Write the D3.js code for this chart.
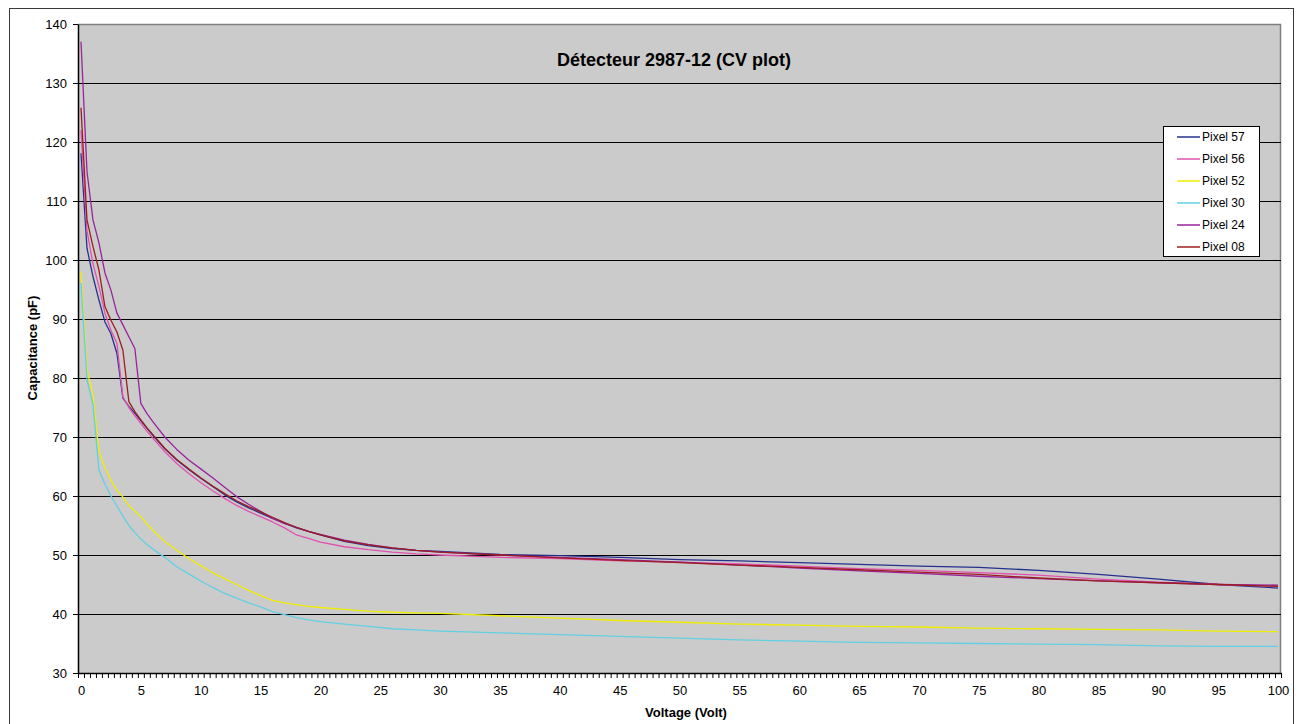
<!DOCTYPE html>
<html>
<head>
<meta charset="utf-8">
<script src="https://cdn.jsdelivr.net/npm/d3@7/dist/d3.min.js"></script>
<style>
  html, body { margin: 0; padding: 0; background: #ffffff; }
  svg { display: block; font-family: Arial, "Liberation Sans", sans-serif; }
</style>
</head>
<body>
<svg id="chart" width="1300" height="724"></svg>
<script>
// ---------- data ----------
const chartTitle = "Détecteur 2987-12 (CV plot)";
const xTitle = "Voltage (Volt)";
const yTitle = "Capacitance (pF)";

const volts = [0,0.5,1,1.5,2,2.5,3,3.5,4,4.5,5,5.5,6,7,8,9,10,11,12,13,14,15,16,17,18,19,20,22,24,26,28,30,35,40,45,50,55,60,65,70,75,80,85,90,95,100];

const pixel57 = [118.1,102.0,97.2,93.2,89.5,87.5,84.2,76.6,75.2,74.0,72.8,71.5,
  70.3,68.0,66.1,64.5,63.0,61.6,60.2,59.0,58.0,57.1,56.2,55.4,54.6,54.0,53.4,
  52.3,51.6,51.1,50.8,50.6,
  50.1,49.9,49.6,49.2,49.0,48.7,48.4,48.1,47.9,47.4,46.7,45.9,45.0,44.4];
const pixel56 = [122.0,105.0,99.4,95.5,91.0,88.1,85.9,76.8,75.0,73.6,72.3,71.0,
  69.8,67.5,65.5,63.8,62.3,60.9,59.6,58.4,57.4,56.5,55.6,54.6,53.4,52.8,52.2,
  51.4,50.9,50.5,50.2,50.0,
  49.6,49.4,49.0,48.8,48.5,48.1,47.7,47.4,47.0,46.6,45.9,45.4,45.0,44.7];
const pixel52 = [98.0,81.4,77.1,67.5,64.8,62.7,61.0,59.8,58.4,57.4,56.5,55.3,
  54.2,52.3,50.8,49.4,48.2,47.0,46.0,45.0,44.0,43.1,42.3,41.9,41.6,41.3,41.1,
  40.8,40.5,40.3,40.2,40.1,
  39.7,39.3,38.9,38.6,38.3,38.1,37.9,37.8,37.6,37.5,37.4,37.3,37.1,37.0];
const pixel30 = [96.1,79.7,75.5,64.4,62.0,60.0,58.3,56.6,55.0,53.8,52.7,51.8,
  51.0,49.6,48.0,46.8,45.6,44.5,43.5,42.7,41.9,41.2,40.4,39.9,39.4,39.0,38.7,
  38.3,37.9,37.5,37.3,37.1,
  36.8,36.5,36.2,35.9,35.6,35.4,35.2,35.1,35.0,34.9,34.8,34.6,34.5,34.5];
const pixel24 = [137.0,115.0,106.8,102.9,97.8,94.9,91.0,89.0,87.0,85.0,75.7,74.0,
  72.6,70.0,67.9,66.1,64.6,63.1,61.5,59.9,58.6,57.4,56.2,55.3,54.7,54.0,53.5,
  52.5,51.8,51.2,50.8,50.5,
  50.0,49.6,49.2,48.8,48.3,47.8,47.3,46.9,46.4,46.0,45.6,45.3,45.0,44.9];
const pixel08 = [125.8,106.8,102.3,98.3,92.1,89.8,87.8,84.7,76.0,74.3,72.9,71.6,
  70.4,68.1,66.2,64.6,63.1,61.7,60.4,59.2,58.2,57.3,56.4,55.5,54.7,54.0,53.4,
  52.4,51.7,51.2,50.8,50.5,
  50.0,49.5,49.1,48.7,48.3,47.9,47.5,47.1,46.7,46.1,45.6,45.3,45.0,44.7];

const seriesNames = ["Pixel 57","Pixel 56","Pixel 52","Pixel 30","Pixel 24","Pixel 08"];
const seriesColors = ["#26308e","#e052b0","#f0ee00","#62d0e2","#9a239c","#9c1e22"];
const seriesValues = [pixel57, pixel56, pixel52, pixel30, pixel24, pixel08];

const xTickLabels = [0,5,10,15,20,25,30,35,40,45,50,55,60,65,70,75,80,85,90,95,100];
const yTickLabels = [30,40,50,60,70,80,90,100,110,120,130,140];

// ---------- layout ----------
const svg = d3.select("#chart");
const plot = {left: 78, right: 1281, top: 24, bottom: 673};

const x = d3.scaleLinear().domain([-0.25, 100.25]).range([plot.left, plot.right]);
const y = d3.scaleLinear().domain([30, 140]).range([plot.bottom, plot.top]);

// outer chart border
svg.append("rect")
  .attr("x", 9.5).attr("y", 8.5)
  .attr("width", 1284).attr("height", 730)
  .attr("fill", "#ffffff").attr("stroke", "#3a3a3a").attr("stroke-width", 1);

// plot area
svg.append("rect")
  .attr("x", plot.left).attr("y", plot.top)
  .attr("width", plot.right - plot.left).attr("height", plot.bottom - plot.top)
  .attr("fill", "#cbcbcb");

// grey border top & right
svg.append("path")
  .attr("d", `M${plot.left},${plot.top + 0.5}H${plot.right - 0.5}V${plot.bottom}`)
  .attr("fill", "none").attr("stroke", "#7f7f7f").attr("stroke-width", 1.5);

// gridlines
svg.append("g")
  .selectAll("line")
  .data(yTickLabels.filter(v => v > 30 && v < 140))
  .join("line")
  .attr("x1", plot.left).attr("x2", plot.right)
  .attr("y1", d => Math.round(y(d)) + 0.5).attr("y2", d => Math.round(y(d)) + 0.5)
  .attr("stroke", "#000").attr("stroke-width", 1.2);

// y axis
const yAxis = d3.axisLeft(y).tickValues(yTickLabels).tickSize(5).tickPadding(6).tickSizeOuter(0);
const gy = svg.append("g").attr("transform", `translate(${plot.left},0)`).call(yAxis);
gy.select(".domain").attr("stroke", "#000").attr("stroke-width", 1.5);
gy.selectAll(".tick line").attr("stroke", "#000");
gy.selectAll(".tick text").attr("font-size", 13).attr("fill", "#000")
  .attr("font-family", "Arial, 'Liberation Sans', sans-serif");

// x axis minor ticks (category boundaries)
const boundaries = d3.range(0, 202).map(k => -0.25 + 0.5 * k);
const xTicksAxis = d3.axisBottom(x).tickValues(boundaries).tickSize(5).tickFormat("").tickSizeOuter(0);
const gxt = svg.append("g").attr("transform", `translate(0,${plot.bottom})`).call(xTicksAxis);
gxt.select(".domain").attr("stroke", "#000").attr("stroke-width", 1.5);
gxt.selectAll(".tick line").attr("stroke", "#000");

// x axis labels
const xLabelAxis = d3.axisBottom(x).tickValues(xTickLabels).tickSize(0).tickPadding(13);
const gxl = svg.append("g").attr("transform", `translate(0,${plot.bottom})`).call(xLabelAxis);
gxl.select(".domain").remove();
gxl.selectAll(".tick text").attr("font-size", 13).attr("fill", "#000")
  .attr("font-family", "Arial, 'Liberation Sans', sans-serif");

// series lines
const line = d3.line().x((d, i) => x(volts[i])).y(d => y(d));
const gLines = svg.append("g");
seriesValues.forEach((vals, i) => {
  gLines.append("path")
    .datum(vals)
    .attr("d", line)
    .attr("fill", "none")
    .attr("stroke", seriesColors[i])
    .attr("stroke-width", 1.3)
    .attr("stroke-linejoin", "round");
});

// title
svg.append("text")
  .attr("x", 674).attr("y", 66)
  .attr("text-anchor", "middle")
  .attr("font-size", 18).attr("font-weight", "bold").attr("fill", "#000")
  .text(chartTitle);

// axis titles
svg.append("text")
  .attr("x", 686).attr("y", 717)
  .attr("text-anchor", "middle")
  .attr("font-size", 13).attr("font-weight", "bold").attr("fill", "#000")
  .text(xTitle);

svg.append("text")
  .attr("transform", "translate(37,348) rotate(-90)")
  .attr("text-anchor", "middle")
  .attr("font-size", 13).attr("font-weight", "bold").attr("fill", "#000")
  .text(yTitle);

// legend
const legend = svg.append("g");
legend.append("rect")
  .attr("x", 1163.5).attr("y", 126.5)
  .attr("width", 96).attr("height", 130)
  .attr("fill", "#ffffff").attr("stroke", "#000").attr("stroke-width", 1);
const legY = d3.scaleLinear().domain([0, 5]).range([137, 247]);
seriesNames.forEach((name, i) => {
  const yy = legY(i);
  legend.append("line")
    .attr("x1", 1177).attr("x2", 1200)
    .attr("y1", yy).attr("y2", yy)
    .attr("stroke", seriesColors[i]).attr("stroke-width", 1.5);
  legend.append("text")
    .attr("x", 1202).attr("y", yy)
    .attr("dy", "0.35em")
    .attr("font-size", 12).attr("fill", "#000")
    .text(name);
});
</script>
</body>
</html>
